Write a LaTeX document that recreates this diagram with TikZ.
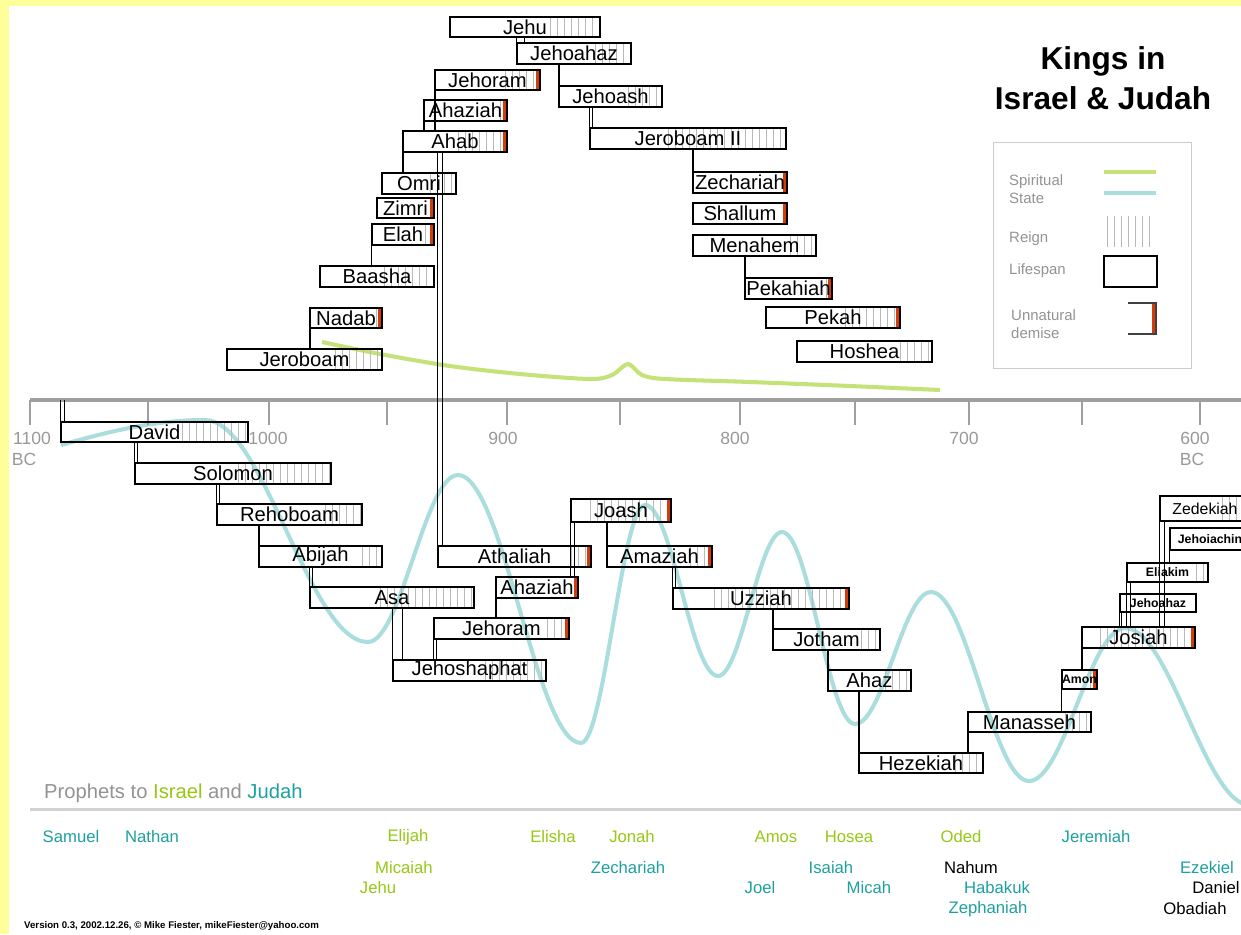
\documentclass[tikz,border=0pt]{standalone}
\usepackage{fontspec}
\setmainfont{Liberation Sans}
\usetikzlibrary{calc}

\definecolor{paper}{RGB}{255,255,153}
\definecolor{spirit}{RGB}{196,226,120}
\definecolor{state}{RGB}{170,222,222}
\definecolor{israel}{RGB}{150,200,20}
\definecolor{judah}{RGB}{30,160,160}
\definecolor{demise}{RGB}{210,60,10}
\definecolor{reigngray}{RGB}{185,185,185}

\begin{document}
\begin{tikzpicture}[x = 0.02cm, y = -0.02cm,
	kingbox/.style = {draw, line width = 0.8pt, inner sep = 0, font = \fontsize{11.5}{12}\selectfont},
	smallbox/.style = {kingbox, font = \fontsize{9}{10}\selectfont},
	tinybox/.style = {kingbox, font = \fontsize{7}{8}\selectfont\bfseries},
	reign/.style = {draw = reigngray, line width = 0.4pt},
	stem/.style = {draw, line width = 0.8pt},
	year/.style = {text = gray!80, font = \fontsize{10}{11}\selectfont},
	prophet/.style = {font = \fontsize{9.5}{10}\selectfont},
	legendtext/.style = {anchor = west, text = gray!85, font = \fontsize{8.5}{10}\selectfont, align = left}]

\useasboundingbox (0, 0) rectangle (1241, 934);

% Page

\fill [paper] (0, 0) rectangle (1241, 934);
\fill [white] (9, 6) rectangle (1241, 934);
\clip (9, 6) rectangle (1241, 934);

% Title

\node [align = center, font = \fontsize{18}{22.7}\selectfont\bfseries] (title) at (1103, 78) {Kings in\\Israel \& Judah};

% Legend

\draw [draw = gray!40] (993, 142) rectangle (1191, 368);
\node [legendtext] (spiritual) at (1003, 189) {Spiritual\\[0.5pt]State};
\draw [spirit, line width = 2.3pt] (1104, 172) -- (1156, 172);
\draw [state, line width = 2.3pt] (1104, 193) -- (1156, 193);
\node [legendtext] (reignkey) at (1003, 239) {Reign};
\foreach \x in {1107, 1114, ..., 1151}
	\draw [reign] (\x, 216) -- (\x, 247);
\node [legendtext] (lifespan) at (1003, 271) {Lifespan};
\draw [line width = 0.8pt] (1104, 256) rectangle (1157, 287);
\node [legendtext] (demisekey) at (1005, 324) {Unnatural\\[0.5pt]demise};
\fill [demise] (1152, 303) rectangle (1157, 334);
\draw [line width = 0.8pt, black!75] (1128, 303) -- (1156, 303) -- (1156, 334) -- (1128, 334);

% Spiritual state curves

\draw [spirit, line width = 2.3pt] plot [smooth] coordinates {(322, 342) (380, 354) (450, 366) (520, 374) (590, 379) (612, 375) (628, 364) (642, 375) (665, 379) (750, 382) (850, 386) (940, 390)};
\draw [state, line width = 2.3pt] (61, 445)
	.. controls +(50, -14) and +(-50, 0) .. (205, 420)
	.. controls +(59, 0) and +(-59, 0) .. (368, 642)
	.. controls +(33, 0) and +(-33, 0) .. (458, 475)
	.. controls +(45, 0) and +(-45, 0) .. (581, 743)
	.. controls +(23, 0) and +(-23, 0) .. (645, 505)
	.. controls +(27, 0) and +(-27, 0) .. (718, 676)
	.. controls +(23, 0) and +(-23, 0) .. (782, 532)
	.. controls +(27, 0) and +(-27, 0) .. (855, 724)
	.. controls +(28, 0) and +(-28, 0) .. (931, 592)
	.. controls +(36, 0) and +(-36, 0) .. (1029, 781)
	.. controls +(35, 0) and +(-35, 0) .. (1125, 628)
	.. controls +(45, 0) and +(-45, 0) .. (1250, 805);

% Time axis

\draw [gray!75, line width = 2.6pt] (30, 400) -- (1241, 400);
\coordinate (axis) at (30, 400);
\foreach \x in {30, 148, 269, 387, 507, 620, 740, 855, 969, 1082, 1200}
	\draw [gray!75, line width = 0.6pt] (\x, 400) -- (\x, 425);
\foreach \x/\yr in {32/1100, 268/1000, 503/900, 735/800, 964/700, 1195/600}
	\node [year] (y\yr) at (\x, 438) {\yr};
\node [year] (bcleft) at (24, 459) {BC};
\node [year] (bcright) at (1192, 459) {BC};

% Kings: lifespan box, reign hatching, demise mark

\foreach \id/\name/\xa/\xb/\ya/\yb/\xr/\red/\look in {
	jeroboam/Jeroboam/227/382/349/370/335/0/kingbox,
	nadab/Nadab/310/382/308/328/376/1/kingbox,
	baasha/Baasha/320/434/266/287/384/0/kingbox,
	elah/Elah/372/434/224/245/425/1/kingbox,
	zimri/Zimri/377/434/198/218/434/1/kingbox,
	omri/Omri/382/456/173/194/430/0/kingbox,
	ahab/Ahab/403/507/131/152/458/1/kingbox,
	ahaziah/Ahaziah/424/507/100/121/500/1/kingbox,
	jehoram/Jehoram/435/540/70/90/505/1/kingbox,
	jehu/Jehu/450/600/17/37/550/0/kingbox,
	jehoahaz/Jehoahaz/517/631/43/64/595/0/kingbox,
	jehoash/Jehoash/559/662/86/107/628/0/kingbox,
	jeroboamii/Jeroboam II/590/786/128/149/668/0/kingbox,
	zechariah/Zechariah/693/787/172/193/783/1/kingbox,
	shallum/Shallum/693/787/203/224/787/1/kingbox,
	menahem/Menahem/693/816/235/256/790/0/kingbox,
	pekahiah/Pekahiah/745/832/278/299/826/1/kingbox,
	pekah/Pekah/766/900/307/328/845/1/kingbox,
	hoshea/Hoshea/797/932/341/362/900/0/kingbox,
	david/David/61/248/422/442/182/0/kingbox,
	solomon/Solomon/135/331/463/484/238/0/kingbox,
	rehoboam/Rehoboam/217/362/504/525/325/0/kingbox,
	abijah/Abijah/259/382/546/567/362/0/kingbox,
	asa/Asa/310/474/587/608/380/0/kingbox,
	jehoshaphat/Jehoshaphat/393/546/660/681/485/0/kingbox,
	jehoramj/Jehoram/434/569/618/639/547/1/kingbox,
	ahaziahj/Ahaziah/496/578/577/598/574/1/kingbox,
	athaliah/Athaliah/438/591/546/567/571/1/kingbox,
	joash/Joash/571/671/499/522/590/1/kingbox,
	amaziah/Amaziah/607/712/546/567/690/1/kingbox,
	uzziah/Uzziah/673/849/588/609/714/1/kingbox,
	jotham/Jotham/773/880/629/650/861/0/kingbox,
	ahaz/Ahaz/828/911/670/691/885/0/kingbox,
	hezekiah/Hezekiah/859/983/753/773/955/0/kingbox,
	manasseh/Manasseh/968/1091/712/732/1065/0/kingbox,
	amon/Amon/1062/1097/670/689/1090/1/tinybox,
	josiah/Josiah/1082/1195/627/648/1100/1/kingbox,
	jehoahazj/Jehoahaz/1120/1196/594/612/1196/0/tinybox,
	eliakim/Eliakim/1127/1208/563/582/1196/0/tinybox,
	jehoiachin/Jehoiachin/1170/1250/528/550/1250/0/tinybox,
	zedekiah/Zedekiah/1160/1250/496/521/1222/0/smallbox}{
	\pgfmathtruncatemacro\nh{(\xb-\xr)/7}
	\foreach \k in {0, ..., \nh}
		\draw [reign] ({\xr+7*\k}, \ya) -- ({\xr+7*\k}, \yb);
	\ifnum\red=1 \fill [demise] (\xb-4, \ya) rectangle (\xb, \yb); \fi
	\node [\look, minimum width = {(\xb-\xa)*0.02cm}, minimum height = {(\yb-\ya)*0.02cm}] (\id) at ({(\xa+\xb)/2}, {(\ya+\yb)/2}) {\name};
}

% Sons set below their fathers

\draw [stem] (david.north west) -- (david.north west |- axis) ($(david.north west)+(4, 0)$) -- ($(david.north west |- axis)+(4, 0)$);
\foreach \p/\c/\g in {jehu/jehoahaz/8, jehoahaz/jehoash/1, jehoash/jeroboamii/3, jeroboamii/zechariah/1, menahem/pekahiah/1, ahab/athaliah/5, david/solomon/3, solomon/rehoboam/3, rehoboam/abijah/1, abijah/asa/3, asa/jehoshaphat/10, joash/amaziah/1, amaziah/uzziah/3, uzziah/jotham/1, jotham/ahaz/1, ahaz/hezekiah/1}
	\draw [stem] (\c.north west) -- (\c.north west |- \p.south) ($(\c.north west)+(\g, 0)$) -- ($(\c.north west |- \p.south)+(\g, 0)$);

% Sons set above their fathers

\foreach \p/\c/\g in {jeroboam/nadab/1, baasha/elah/0, omri/ahab/1, ahab/ahaziah/1, ahab/jehoram/1, jehoshaphat/jehoramj/3, jehoramj/ahaziahj/1, ahaziahj/joash/4, hezekiah/manasseh/1, manasseh/amon/0, amon/josiah/1, josiah/jehoahazj/2, josiah/eliakim/4, eliakim/jehoiachin/0, josiah/zedekiah/5}
	\draw [stem] (\c.south west) -- (\c.south west |- \p.north) ($(\c.south west)+(\g, 0)$) -- ($(\c.south west |- \p.north)+(\g, 0)$);

% Prophets

\node [anchor = west, text = gray!85, font = \fontsize{11.5}{12}\selectfont] (prophets) at (38, 793) {Prophets to \textcolor{israel}{Israel} and \textcolor{judah}{Judah}};
\draw [gray!35, line width = 1.7pt] (30, 809) -- (1241, 809);
\foreach \n/\c/\x/\y in {Samuel/judah/71/837, Nathan/judah/152/837, Elijah/israel/408/837, Elisha/israel/553/837, Jonah/israel/632/837, Amos/israel/776/837, Hosea/israel/849/837, Oded/israel/961/837, Jeremiah/judah/1096/837,
	Micaiah/israel/404/868, Zechariah/judah/628/868, Isaiah/judah/831/868, Nahum/black/971/868, Ezekiel/judah/1207/868,
	Jehu/israel/378/888, Joel/judah/760/888, Micah/judah/869/888, Habakuk/judah/997/888, Daniel/black/1216/888,
	Zephaniah/judah/988/909, Obadiah/black/1195/909}
	\node [prophet, text = \c] (p-\n) at (\x, \y) {\n};

% Version

\node [anchor = west, font = \fontsize{5.5}{6}\selectfont\bfseries] (version) at (18, 926) {Version 0.3, 2002.12.26, \textcopyright{} Mike Fiester, mikeFiester@yahoo.com};

\end{tikzpicture}
\end{document}
